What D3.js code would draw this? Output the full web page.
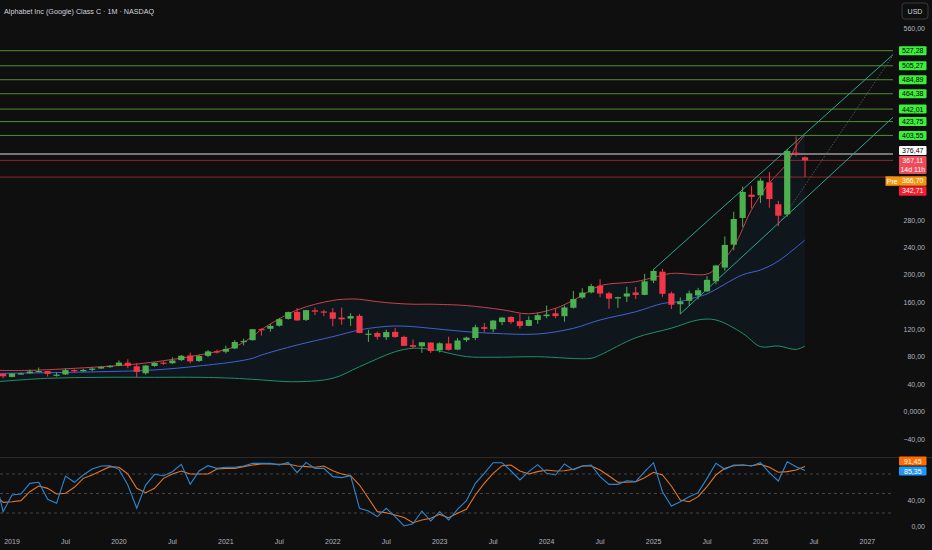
<!DOCTYPE html>
<html><head><meta charset="utf-8">
<script src="https://cdn.jsdelivr.net/npm/d3@7"></script>
<style>html,body{margin:0;padding:0;background:#0f0f0f;overflow:hidden}</style>
</head><body><svg id="c" width="932" height="550"></svg>
<script>
// ---------------- DATA ----------------
const title = "Alphabet Inc (Google) Class C · 1M · NASDAQ";
const firstCandleMonth = "2018-12";
const lastCandleMonth = "2026-06";
const opens  = [55.4,
 50.8,55.9,56.1,59.1,59.4,53.3,54.4,60.9,59.0,61.1,63.1,65.4,
 67.1,71.6,66.3,56.2,66.8,71.7,70.8,75.4,82.1,74.1,81.6,88.2,
 87.6,92.4,102.5,104.5,120.7,121.1,125.6,135.5,145.7,134.1,148.1,146.4,
 145.1,137.5,136.0,140.0,113.9,114.9,108.8,116.6,109.3,97.2,95.6,101.0,
 89.8,99.7,90.7,104.6,107.7,123.5,120.3,130.9,138.4,132.2,125.3,134.0,
 139.6,143.7,139.5,151.8,166.7,174.2,184.0,172.9,165.9,168.2,174.1,170.6,
 191.5,204.5,172.9,157.0,162.0,169.8,175.7,190.5,210.5,244.0,283.0,317.0,
 316.0,335.0,303.0,288.3,378.4,371.6];
const highs  = [56.5,
 56.3,57.3,61.6,64.6,59.7,57.0,63.3,61.9,62.6,64.9,66.5,68.1,
 75.0,76.5,70.7,68.1,72.1,73.6,79.4,82.9,86.4,83.1,90.1,90.5,
 96.4,104.6,106.8,120.5,122.0,127.9,137.0,146.3,151.4,148.6,152.1,148.9,
 151.5,152.1,143.8,142.7,119.8,117.0,119.8,122.4,111.0,105.4,101.5,101.3,
 101.4,109.6,107.5,109.6,127.1,129.6,134.1,138.4,139.2,142.7,139.4,143.9,
 155.2,151.2,155.2,176.4,180.3,186.7,193.3,175.2,168.0,182.5,182.2,201.4,
 208.7,208.7,175.5,167.0,176.8,180.9,197.9,214.6,256.0,292.0,328.8,330.0,
 341.0,350.0,308.0,384.0,402.0,373.0];
const lows   = [48.9,
 50.3,54.0,55.3,58.8,51.4,51.3,53.7,57.0,58.4,59.0,62.5,63.9,
 66.6,63.5,50.7,54.3,65.6,68.6,69.7,73.8,70.6,72.6,79.5,84.9,
 85.1,91.4,96.8,104.0,111.2,117.0,124.1,134.5,132.6,132.5,141.0,139.5,
 124.8,127.0,125.3,114.6,101.9,105.4,104.8,107.8,95.9,92.6,85.9,85.6,
 86.6,89.4,89.8,102.0,104.5,116.0,115.8,126.4,128.3,121.5,124.9,128.3,
 136.5,136.7,131.5,150.6,164.6,172.7,167.2,150.3,151.7,160.1,164.6,170.1,
 187.9,167.8,150.0,142.7,155.0,164.0,175.0,186.0,206.0,236.0,270.0,297.0,
 305.0,298.0,271.0,285.0,373.0,342.71];
const closes = [51.7,
 55.8,56.0,58.7,59.4,55.2,54.1,60.8,59.4,61.0,63.0,65.2,66.9,
 71.7,67.0,58.1,67.4,71.4,70.7,74.8,81.7,73.5,81.3,88.1,87.6,
 91.8,101.8,103.4,120.5,120.6,125.3,135.2,145.5,133.3,148.3,146.1,144.7,
 135.7,134.9,139.6,115.0,114.0,109.4,116.3,109.2,96.2,94.7,101.4,88.7,
 99.9,90.3,104.0,108.2,123.4,121.0,133.1,137.4,130.9,125.3,133.9,140.9,
 141.8,139.6,152.3,164.6,174.0,183.4,172.6,165.1,167.2,172.7,170.5,190.4,
 205.6,172.2,156.2,160.9,172.9,177.4,192.6,213.5,243.6,281.5,321.0,313.8,
 337.5,310.6,286.3,380.8,376.47,367.11];

// Bollinger bands
const bbUpper = [["2018-11",60.5],["2019-03",60.4],["2019-11",65.7],["2020-03",69.7],["2020-06",74.5],["2020-10",82.8],
 ["2021-02",95],["2021-04",110],["2021-05",120],["2021-09",148.6],["2022-01",162.5],["2022-03",164.6],["2022-04",164.2],
 ["2022-06",160.7],["2022-08",158.3],["2022-10",157],["2022-12",157],["2023-04",155],["2023-08",149],["2023-11",143],
 ["2024-02",151],["2024-04",163],["2024-05",170],["2024-07",184],["2024-11",190],["2025-01",196],["2025-03",202],
 ["2025-07",201],["2025-08",210],["2025-10",241],["2025-12",295],["2026-02",334],["2026-04",363],["2026-05",388],["2026-06",404]];
const bbMiddle = [["2018-11",55.8],["2019-11",58.4],["2020-05",61],["2020-10",66.8],["2021-02",73],["2021-04",78],["2021-05",82.8],
 ["2021-09",97.4],["2022-01",109.6],["2022-04",119.4],["2022-06",123.3],["2022-08",125.2],["2022-10",124.2],["2022-12",121.8],
 ["2023-04",116.9],["2023-07",114.5],["2023-12",113.5],["2024-04",121.8],["2024-07",134],["2024-11",146],["2025-02",158],
 ["2025-04",161],["2025-06",168],["2025-07",172],["2025-11",200],["2026-01",207],["2026-03",220],["2026-06",251]];
const bbLower = [["2018-11",43.5],["2019-05",48.8],["2019-11",50.2],["2020-05",50.2],["2020-10",50.2],["2021-02",48.8],["2021-04",47.3],
 ["2021-09",43.8],["2022-01",48.8],["2022-04",65.7],["2022-08",87.6],["2022-10",92.6],["2022-12",91],["2023-04",80.5],
 ["2023-07",79.5],["2023-12",80.3],["2024-06",78],["2024-07",82.8],["2024-11",108],["2025-03",122],["2025-06",134],
 ["2025-08",134],["2025-11",114.5],["2026-01",95],["2026-03",96],["2026-05",91],["2026-06",96]];

// Stochastic RSI (%K, %D), monthly from 2018-11
const stochFirstMonth = "2018-11";
const stochK = [80,22,47.7,49.2,65.6,67.2,41,34.9,76.9,67.2,78.5,87.7,92.3,92.8,87.2,63,27.2,63,79.5,77.4,83.6,94.9,
 64.1,84.6,92.8,88.7,90.3,90.3,92.3,96.4,96.4,96.4,93.8,97.9,82.1,97.9,88.7,88.7,75.9,74.4,77.4,27.2,
 23.1,14.4,27.2,14.4,0,3.5,23,7.7,22,9.2,25.6,39,65.6,81,97.4,97.4,84.6,70.8,83.6,94.4,
 81,78.5,95.4,86.2,92.3,93.8,75.9,64.1,64.1,69.7,68.2,83.6,97.4,52.8,30.8,37.4,45.1,51.3,73.3,96.4,
 87.2,93.8,93.8,92.3,97.4,82.1,69.2,99,91.3,85.35];
const stochD = [49.5,36.4,37.4,39,52.8,61.5,57.9,49.2,50.3,59.5,73.3,78.5,85.1,91.3,90.3,80,57.9,51.3,57.9,73.3,80,84.6,
 80,80,80,87.7,88.7,88.7,91.3,93.8,95.4,95.4,94.9,95.4,92.3,91.3,90.3,92.3,85.1,80,77.4,63,
 42.6,22.1,20.5,16.9,13,5.1,9.2,11.8,17.9,12.8,19.5,25.6,47.7,65.6,81,92.8,93.8,84.6,80,83.6,
 86.2,84.6,85.1,87.2,92.3,92.3,86.2,76.9,67.2,67.2,68.2,74.4,82.6,78.5,61.5,40,37.4,45.1,60.5,78.5,
 88.7,92.8,93.8,92.8,94.9,90.3,82.6,83.6,86.2,91.45];
const stochLevels = [80, 50, 20];

// Drawn horizontal levels and trend lines
const levelPrices = [527.28, 505.27, 484.89, 464.38, 442.01, 423.75, 403.55];
const prevClose = 376.47;
const lastPrice = 367.11;
const preMarket = 366.70;
const dayLow = 342.71;
const countdown = "14d 11h";
const channelUpper = [["2025-01",207.8],["2027-04",523]];
const channelLower = [["2025-04",142.7],["2027-04",431.5]];
const channelMid   = [["2026-03",273],["2027-04",523]];

// Axis ticks (those not hidden behind price labels)
const timeTickMonths = ["2019-01","2019-07","2020-01","2020-07","2021-01","2021-07","2022-01","2022-07","2023-01","2023-07",
 "2024-01","2024-07","2025-01","2025-07","2026-01","2026-07","2027-01"];
const timeTickLabels = ["2019","Jul","2020","Jul","2021","Jul","2022","Jul","2023","Jul","2024","Jul","2025","Jul","2026","Jul","2027"];
const priceTicks = [560,280,240,200,160,120,80,40,0,-40];
const stochTicks = [40,0];

// ---------------- DRAWING ----------------
const FONT = "'Liberation Sans', Arial, sans-serif";
const svg = d3.select("#c");
svg.append("rect").attr("width",932).attr("height",550).attr("fill","#0f0f0f");

const mIdx = s => { const [Y,M] = s.split("-").map(Number); return (Y-2019)*12 + (M-1); };
const fmtMonth = d3.timeFormat("%Y-%m");
const parseMonth = d3.timeParse("%Y-%m");
const candleMonths = d3.timeMonth.range(parseMonth(firstCandleMonth), d3.timeMonth.offset(parseMonth(lastCandleMonth),1)).map(fmtMonth);

const x = d3.scaleLinear().domain([0,96]).range([12, 867.4]);
const y = d3.scaleLinear().domain([0,560]).range([411.7, 28.3]);
const yS = d3.scaleLinear().domain([0,100]).range([526, 461]);

const PANE_R = 893;
const defs = svg.append("defs");
defs.append("clipPath").attr("id","mainClip").append("rect").attr("x",0).attr("y",0).attr("width",PANE_R).attr("height",456);
defs.append("clipPath").attr("id","lowClip").append("rect").attr("x",0).attr("y",458).attr("width",PANE_R).attr("height",74);

const main = svg.append("g").attr("clip-path","url(#mainClip)");

// Bollinger fill + lines
const bandLine = d3.line().x(d=>x(mIdx(d[0]))).y(d=>y(d[1])).curve(d3.curveCatmullRom.alpha(0.5));
const fillPath = bandLine(bbUpper) + bandLine(bbLower.slice().reverse()).replace(/^M/,"L") + "Z";
main.append("path").attr("d",fillPath).attr("fill","rgba(33,150,243,0.06)");
main.append("path").attr("d",bandLine(bbUpper)).attr("fill","none").attr("stroke","#c8414e").attr("stroke-width",1);
main.append("path").attr("d",bandLine(bbMiddle)).attr("fill","none").attr("stroke","#3d62d6").attr("stroke-width",1);
main.append("path").attr("d",bandLine(bbLower)).attr("fill","none").attr("stroke","#1f8f6a").attr("stroke-width",1);

// horizontal levels
main.selectAll("line.lvl").data(levelPrices).join("line").attr("class","lvl")
  .attr("x1",0).attr("x2",PANE_R).attr("y1",d=>y(d)).attr("y2",d=>y(d))
  .attr("stroke","#4e8f34").attr("stroke-width",1);
main.append("line").attr("x1",0).attr("x2",PANE_R).attr("y1",y(prevClose)).attr("y2",y(prevClose))
  .attr("stroke","#9a9a9a").attr("stroke-width",1.4);
[lastPrice, dayLow].forEach(v=>{
  main.append("line").attr("x1",0).attr("x2",PANE_R).attr("y1",y(v)).attr("y2",y(v))
   .attr("stroke","#8a2733").attr("stroke-width",1);
});

// trend lines
const tl = d3.line().x(d=>x(mIdx(d[0]))).y(d=>y(d[1]));
main.append("path").attr("d",tl(channelUpper)).attr("stroke","#2aa596").attr("stroke-width",1).attr("fill","none");
main.append("path").attr("d",tl(channelLower)).attr("stroke","#2aa596").attr("stroke-width",1).attr("fill","none");
main.append("path").attr("d",tl(channelMid)).attr("stroke","#5a6470").attr("stroke-width",0.8).attr("stroke-dasharray","1.5,1.5").attr("fill","none");

// candles
const candles = candleMonths.map((m,k)=>({i:mIdx(m), o:opens[k], h:highs[k], l:lows[k], c:closes[k]}));
const UP="#4caf50", DN="#f23645", CW=6.2;
main.selectAll("line.wick").data(candles).join("line").attr("class","wick")
  .attr("x1",d=>x(d.i)).attr("x2",d=>x(d.i)).attr("y1",d=>y(d.h)).attr("y2",d=>y(d.l))
  .attr("stroke",d=>d.c>=d.o?UP:DN).attr("stroke-width",1);
main.selectAll("rect.body").data(candles).join("rect").attr("class","body")
  .attr("x",d=>x(d.i)-CW/2).attr("width",CW)
  .attr("y",d=>y(Math.max(d.o,d.c))).attr("height",d=>Math.max(1.2,Math.abs(y(d.o)-y(d.c))))
  .attr("fill",d=>d.c>=d.o?UP:DN);

// pane separator
svg.append("line").attr("x1",0).attr("x2",932).attr("y1",457.5).attr("y2",457.5).attr("stroke","#2a2a2a").attr("stroke-width",1);

// lower pane
const low = svg.append("g").attr("clip-path","url(#lowClip)");
low.selectAll("line.sl").data(stochLevels).join("line").attr("class","sl")
  .attr("x1",0).attr("x2",PANE_R).attr("y1",d=>yS(d)).attr("y2",d=>yS(d))
  .attr("stroke","#444").attr("stroke-width",1).attr("stroke-dasharray","3,3");
const s0 = mIdx(stochFirstMonth);
const sl = d3.line().x((d,k)=>x(s0+k)).y(d=>yS(d));
low.append("path").attr("d",sl(stochD)).attr("fill","none").attr("stroke","#e2762a").attr("stroke-width",1.1);
low.append("path").attr("d",sl(stochK)).attr("fill","none").attr("stroke","#2b88d4").attr("stroke-width",1.1);

// text helpers
const txt = (g,xx,yy,t,opt={}) => g.append("text").attr("x",xx).attr("y",yy).text(t)
  .attr("font-family",FONT).attr("font-size",opt.size||7).attr("fill",opt.fill||"#b2b5be")
  .attr("text-anchor",opt.anchor||"start").attr("dominant-baseline","central");
const fmtP = v => v===0 ? "0,0000" : (v<0?"\u2212":"") + d3.format(".2f")(Math.abs(v)).replace(".",",");

// title
txt(svg,4,11.5,title,{fill:"#d1d4dc",size:7.2});
// USD box
svg.append("rect").attr("x",902).attr("y",3).attr("width",26).attr("height",16).attr("rx",3)
  .attr("fill","none").attr("stroke","#3a3a3a");
txt(svg,915,11,"USD",{fill:"#d1d4dc",anchor:"middle"});

// price axis ticks
priceTicks.forEach(v=>txt(svg,925,y(v),fmtP(v),{anchor:"end"}));
stochTicks.forEach(v=>txt(svg,925,yS(v),fmtP(v).replace("0,0000","0,00"),{anchor:"end"}));

// time axis
timeTickMonths.forEach((m,k)=>txt(svg,x(mIdx(m)),541,timeTickLabels[k],{anchor:"middle"}));

// price labels
const box = (cy,h,bg,lines,fg) => {
  svg.append("rect").attr("x",899).attr("y",cy-h/2).attr("width",27.5).attr("height",h).attr("rx",1).attr("fill",bg);
  lines.forEach((t,k)=>txt(svg,912.8,cy-h/2+4.5+k*8.6,t,{anchor:"middle",fill:fg}));
};
levelPrices.forEach(v=>box(y(v),9,"#3cf03a",[fmtP(v)],"#000"));
box(y(prevClose)-3.5,9,"#ffffff",[fmtP(prevClose)],"#000");
box(y(lastPrice)+4.6,18,"#f04a5a",[fmtP(lastPrice),countdown],"#fff");
box(y(preMarket)+20.4,9.5,"#f5950f",[fmtP(preMarket)],"#fff");
svg.append("rect").attr("x",885.5).attr("y",y(preMarket)+20.4-4.75).attr("width",13.5).attr("height",9.5).attr("fill","#f5950f");
txt(svg,892.2,y(preMarket)+20.4,"Pre",{anchor:"middle",fill:"#fff"});
box(y(dayLow)+14,9.5,"#f21d2d",[fmtP(dayLow)],"#fff");

// stoch labels
box(461,9,"#ff6d00",[fmtP(stochD[stochD.length-1])],"#fff");
box(471,9,"#2196f3",[fmtP(stochK[stochK.length-1])],"#fff");
</script>
</body></html>
